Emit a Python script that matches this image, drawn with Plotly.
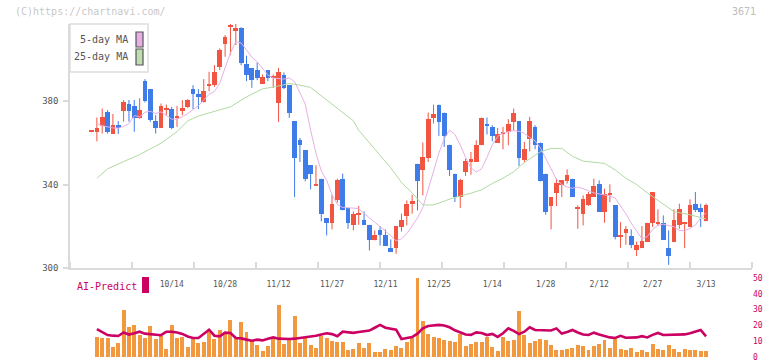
import plotly.graph_objects as go

# ---------------- data ----------------
tick_idx = [15, 25, 35, 45, 55, 65, 75, 85, 95, 105, 115]
tick_labels = ["10/14", "10/28", "11/12", "11/27", "12/11", "12/25",
               "1/14", "1/28", "2/12", "2/27", "3/13"]
price_ticks = [300, 340, 380]
ai_ticks = [0, 10, 20, 30, 40, 50]

opens = [
    365.2, 365.2, 368.1, 374.6, 364.2, 368.5, 375.2, 378.6, 377.6, 371.9,
    389.5, 385.7, 370.3, 367.1, 375.9, 376.4, 372.0, 375.1, 377.2, 385.7,
    383.6, 379.3, 387.3, 387.5, 396.4, 407.1, 415.7, 413.5, 415.1, 397.5,
    395.6, 394.8, 388.1, 394.8, 391.4, 379.1, 392.7, 387.6, 370.3, 361.2,
    356.4, 349.2, 339.7, 342.8, 324.0, 321.4, 332.4, 342.8, 328.9, 320.7,
    325.8, 322.8, 320.7, 313.2, 318.0, 315.9, 309.7, 309.5, 319.6, 324.9,
    330.8, 350.0, 346.8, 352.7, 371.9, 378.3, 374.5, 359.1, 345.2, 334.0,
    346.0, 350.8, 350.8, 358.8, 369.2, 367.7, 360.0, 364.2, 365.2, 370.0,
    370.3, 351.6, 362.0, 367.4, 360.1, 345.2, 329.5, 335.9, 339.6, 341.5,
    342.8, 328.7, 325.7, 330.3, 334.0, 340.1, 326.8, 335.0, 330.0, 315.0,
    316.9, 315.1, 308.4, 309.5, 312.4, 321.7, 321.4, 321.7, 309.7, 312.4,
    320.4, 321.1, 319.6, 330.8, 328.9, 322.5]
highs = [
    365.8, 372.1, 376.4, 375.6, 373.8, 370.4, 380.5, 380.5, 380.5, 381.3,
    390.5, 385.7, 373.2, 378.8, 378.3, 377.2, 377.7, 380.4, 380.9, 387.6,
    385.7, 390.5, 394.0, 397.2, 405.2, 411.6, 416.9, 416.9, 415.4, 401.7,
    395.6, 398.5, 392.7, 394.8, 392.7, 395.9, 393.7, 387.6, 370.3, 362.3,
    356.4, 349.2, 349.2, 342.8, 324.0, 335.1, 342.8, 345.2, 328.9, 327.1,
    329.7, 327.1, 320.7, 318.0, 320.1, 318.5, 313.7, 320.1, 326.0, 332.4,
    335.1, 350.0, 360.1, 374.5, 378.3, 378.3, 374.5, 359.1, 345.2, 342.8,
    352.4, 355.6, 361.2, 372.1, 372.1, 368.4, 367.1, 367.6, 371.3, 376.4,
    370.3, 360.4, 372.4, 368.4, 360.1, 345.2, 334.0, 342.8, 342.0, 347.3,
    342.8, 330.0, 334.8, 336.4, 342.8, 342.0, 338.0, 340.1, 330.0, 322.0,
    320.1, 318.5, 312.7, 320.1, 321.7, 336.2, 328.1, 325.2, 318.0, 328.1,
    330.8, 322.0, 332.9, 336.4, 330.8, 330.8]
lows = [
    365.0, 360.7, 364.4, 364.4, 364.2, 364.2, 370.1, 370.1, 365.3, 371.5,
    379.3, 370.0, 364.4, 367.1, 373.2, 366.5, 367.6, 373.2, 376.7, 376.1,
    376.1, 379.3, 384.7, 386.8, 394.8, 401.2, 402.0, 406.8, 397.2, 389.5,
    386.3, 390.0, 388.1, 389.5, 386.3, 370.0, 385.7, 371.9, 334.0, 350.8,
    341.5, 337.7, 339.7, 322.3, 315.6, 318.5, 331.3, 327.6, 318.8, 318.0,
    320.7, 320.7, 308.4, 313.2, 310.8, 310.5, 307.6, 306.8, 317.5, 320.4,
    326.0, 327.6, 334.8, 350.8, 369.2, 363.3, 358.0, 344.1, 331.6, 328.7,
    344.1, 344.7, 350.8, 358.8, 364.0, 360.7, 360.0, 356.9, 358.8, 366.0,
    348.9, 350.8, 355.9, 356.9, 341.5, 325.5, 318.5, 329.7, 334.0, 340.4,
    334.0, 318.8, 320.4, 329.7, 334.0, 326.8, 321.7, 331.6, 313.7, 309.7,
    311.1, 309.5, 305.7, 309.5, 312.4, 319.6, 320.1, 313.4, 301.5, 312.4,
    318.8, 309.5, 319.6, 326.8, 319.6, 322.5]
closes = [
    365.5, 367.3, 372.4, 365.2, 368.5, 367.2, 379.4, 375.4, 372.0, 375.7,
    379.9, 370.8, 367.1, 377.7, 376.3, 367.1, 372.4, 376.7, 380.4, 383.3,
    382.0, 384.7, 387.7, 394.0, 404.4, 410.8, 416.1, 415.0, 398.0, 392.4,
    390.0, 391.1, 391.6, 391.1, 391.8, 393.7, 386.3, 374.3, 352.7, 358.8,
    342.5, 344.9, 340.1, 325.7, 321.4, 330.8, 342.0, 327.6, 321.7, 326.0,
    326.2, 320.7, 313.2, 315.9, 315.6, 310.5, 307.6, 320.1, 322.8, 330.8,
    332.1, 341.7, 353.0, 371.3, 373.7, 370.0, 363.3, 346.8, 334.0, 342.0,
    351.1, 352.1, 359.1, 372.1, 368.1, 363.3, 364.4, 364.6, 369.2, 374.5,
    352.7, 357.2, 370.3, 358.8, 341.5, 326.8, 334.0, 340.7, 342.0, 344.4,
    334.0, 329.1, 332.9, 335.3, 339.1, 326.8, 335.3, 335.4, 314.8, 315.4,
    318.8, 311.1, 310.8, 312.7, 321.7, 336.2, 321.8, 313.4, 305.7, 322.8,
    328.1, 321.5, 330.0, 327.6, 326.8, 330.0]

volume = [
    None, 12.9, 12.0, 12.0, 6.3, 8.9, 29.7, 19.0, 20.5, 13.7,
    12.0, 19.6, 11.4, 13.1, 5.1, 20.3, 12.0, 12.9, 6.3, 11.4,
    8.9, 9.5, 17.1, 11.4, 17.1, 16.0, 23.4, 12.9, 22.4, 16.0,
    10.3, 7.6, 3.8, 7.0, 12.0, 33.1, 8.2, 10.8, 25.9, 8.9,
    12.0, 7.6, 5.7, 13.3, 12.0, 10.3, 9.7, 9.7, 4.4, 5.3,
    8.9, 5.7, 8.9, 3.2, 3.2, 5.1, 4.4, 6.8, 5.9, 9.5,
    12.0, 50.0, 22.6, 14.6, 12.9, 12.0, 10.5, 9.9, 9.3, 14.6,
    7.0, 8.2, 9.5, 9.5, 12.7, 6.3, 3.8, 12.7, 10.3, 11.0,
    29.1, 13.9, 8.9, 10.3, 11.4, 10.8, 7.6, 4.4, 4.4, 5.1,
    5.7, 7.8, 7.2, 4.4, 6.8, 8.2, 10.8, 5.7, 11.4, 5.1,
    4.4, 5.7, 3.2, 4.4, 3.2, 8.2, 5.1, 4.6, 7.6, 5.1,
    3.2, 5.1, 4.6, 4.6, 3.8, 3.8]

ai_predict = [
    None, 17.7, 16.0, 13.9, 13.5, 13.3, 15.5, 14.2, 15.0, 16.0,
    14.8, 14.6, 14.0, 13.8, 16.0, 16.0, 15.5, 14.6, 13.0, 12.0,
    12.0, 14.5, 17.3, 13.5, 13.1, 15.4, 15.2, 12.0, 11.8, 11.0,
    10.3, 11.0, 10.5, 11.5, 12.4, 11.6, 11.4, 11.4, 11.6, 12.0,
    12.3, 12.9, 13.5, 14.3, 15.0, 14.5, 13.1, 16.0, 15.5, 15.3,
    15.8, 16.3, 16.7, 18.5, 20.3, 18.5, 17.8, 17.3, 11.4, 12.2,
    12.6, 14.8, 18.2, 19.6, 20.0, 20.3, 19.9, 18.8, 16.9, 15.3,
    14.2, 14.0, 15.6, 15.2, 13.9, 14.6, 12.7, 15.0, 18.1, 16.5,
    14.5, 16.0, 18.8, 17.1, 17.0, 16.8, 16.8, 18.1, 14.8, 15.8,
    17.1, 15.5, 14.2, 13.9, 15.4, 14.2, 13.2, 12.4, 12.0, 13.4,
    12.2, 12.4, 12.4, 13.2, 12.4, 14.0, 15.2, 13.9, 13.9, 13.9,
    13.9, 14.3, 15.0, 16.0, 17.1, 13.1]

ma5 = [
    None, 369.2, 368.2, 367.6, 367.1, 367.0, 367.8, 369.2, 373.0, 372.5,
    374.6, 375.1, 374.0, 374.8, 373.2, 371.3, 371.3, 372.4, 374.0, 375.8,
    377.8, 380.5, 383.2, 384.6, 388.5, 396.0, 403.0, 408.5, 407.8, 404.5,
    401.0, 398.8, 395.5, 392.5, 391.0, 390.7, 390.5, 391.1, 389.2, 384.0,
    378.5, 366.0, 355.0, 346.5, 342.0, 335.2, 330.5, 329.0, 329.0, 328.7,
    328.4, 326.0, 324.0, 322.0, 319.8, 318.0, 315.5, 313.0, 314.0, 316.4,
    320.0, 324.0, 329.0, 338.0, 347.0, 355.0, 362.0, 366.0, 364.0, 359.0,
    353.0, 348.0, 346.0, 347.5, 353.0, 359.0, 363.0, 364.8, 365.3, 365.8,
    365.5, 364.5, 362.5, 361.0, 357.5, 352.5, 347.0, 342.5, 340.0, 338.8,
    338.2, 338.8, 338.0, 337.0, 336.0, 335.5, 335.0, 334.5, 333.5, 330.0,
    326.0, 321.5, 317.5, 314.0, 315.0, 318.5, 320.5, 321.0, 320.3, 319.8,
    318.0, 317.8, 319.0, 320.5, 324.0, 326.5]

ma25_idx = [1, 3, 6, 9, 13, 16, 18, 20, 22, 24, 26, 29, 32, 35, 37, 39, 41, 43,
            45, 47, 49, 50, 52, 54, 56, 58, 60, 62, 64, 66, 67, 69, 71, 73, 75,
            77, 79, 81, 84, 86, 88, 90, 92, 96, 98, 100, 102, 104, 107, 109,
            112, 114, 115]
ma25_val = [343, 347.5, 351, 354.3, 359.8, 365.3, 370.5, 372.8, 374.3, 375.8,
            377.2, 382, 385.8, 387.2, 388.4, 387.6, 386.5, 382.5, 378.5, 374.5,
            370.5, 366, 360, 354, 348, 341, 336, 330.2, 330.2, 332, 333, 334.5,
            335.8, 337.5, 340.5, 343, 346.1, 350.5, 355.7, 357.3, 357.3, 353.5,
            351.2, 350.1, 347, 343, 340, 336, 330.5, 327, 325.5, 324, 323.5]

# ---------------- styling ----------------
RED = "#F15541"
BLUE = "#3E7CE9"
ORANGE = "#F2983F"
MAGENTA = "#CC0062"
PINK = "#E6B0E6"
GREEN = "#B2D9A2"
AXIS = "#DADADA"
TXT = "#555555"
MONO = "DejaVu Sans Mono"

W, H = 772, 361
L, R, T, B = 70, 752, 24, 357   # pixel frame of the plotting area
MAIN_BOTTOM = 268
VOL_TOP = 278

def fx(p):
    return (p - L) / (R - L)

def fy(p):
    return (B - p) / (B - T)

n = len(opens)
idx = list(range(n))
up = [c >= o for o, c in zip(opens, closes)]
colors = [RED if u else BLUE for u in up]

fig = go.Figure()

# wicks
for flag, col in ((True, RED), (False, BLUE)):
    wx, wy = [], []
    for i in idx:
        if up[i] == flag:
            wx += [i, i, None]
            wy += [lows[i], highs[i], None]
    fig.add_trace(go.Scatter(x=wx, y=wy, mode="lines",
                             line=dict(color=col, width=1),
                             hoverinfo="skip", xaxis="x", yaxis="y"))

# bodies
fig.add_trace(go.Bar(
    x=idx,
    y=[max(abs(c - o), 0.5) for o, c in zip(opens, closes)],
    base=[min(o, c) for o, c in zip(opens, closes)],
    marker=dict(color=colors, line=dict(width=0)),
    width=0.88, xaxis="x", yaxis="y"))

# moving averages
fig.add_trace(go.Scatter(x=idx, y=ma5, mode="lines",
                         line=dict(color=PINK, width=1),
                         xaxis="x", yaxis="y"))
fig.add_trace(go.Scatter(x=ma25_idx, y=ma25_val, mode="lines",
                         line=dict(color=GREEN, width=1),
                         xaxis="x", yaxis="y"))

# volume + AI-Predict
fig.add_trace(go.Bar(x=idx, y=volume, marker=dict(color=ORANGE, line=dict(width=0)),
                     width=0.74, xaxis="x2", yaxis="y2"))
fig.add_trace(go.Scatter(x=idx, y=ai_predict, mode="lines",
                         line=dict(color=MAGENTA, width=2.6),
                         xaxis="x2", yaxis="y2"))

x_range = [-4.03, 123.6]
grid_vals = [x_range[0] + k * (x_range[1] - x_range[0]) / 11 for k in range(12)]

fig.update_layout(
    width=W, height=H,
    margin=dict(l=L, r=W - R, t=T, b=H - B, pad=0, autoexpand=False),
    paper_bgcolor="white", plot_bgcolor="white",
    showlegend=False, barmode="overlay", bargap=0,
    xaxis=dict(domain=[0, 1], range=x_range, anchor="y", automargin=False,
               showline=True, linecolor=AXIS, linewidth=1.5,
               showgrid=False, zeroline=False,
               tickmode="array", tickvals=tick_idx, ticktext=tick_labels,
               ticks="outside", ticklen=8, tickcolor="rgba(0,0,0,0)",
               tickfont=dict(family=MONO, size=8, color=TXT),
               minor=dict(tickmode="array", tickvals=grid_vals, ticks="inside",
                          ticklen=6, tickwidth=1.5, tickcolor=AXIS, showgrid=False)),
    yaxis=dict(domain=[fy(MAIN_BOTTOM), 1], range=[300, 416.9], anchor="x",
               automargin=False, ticklabelstandoff=3,
               showline=True, linecolor=AXIS, linewidth=1.5,
               showgrid=False, zeroline=False,
               tickmode="array", tickvals=price_ticks,
               ticks="outside", ticklen=5, tickcolor=AXIS, tickwidth=1.5,
               tickfont=dict(family=MONO, size=9, color=TXT)),
    xaxis2=dict(domain=[0, 1], range=x_range, anchor="y2", visible=False,
                automargin=False),
    yaxis2=dict(domain=[0, fy(VOL_TOP)], range=[0, 50], anchor="x2", side="right",
                automargin=False, ticklabeloverflow="allow",
                showline=False, showgrid=False, zeroline=False,
                tickmode="array", tickvals=ai_ticks, ticks="",
                tickfont=dict(family=MONO, size=8, color=MAGENTA)),
)

shapes = []
annos = []
# legend box
shapes.append(dict(type="rect", xref="paper", yref="paper",
                   x0=fx(70), x1=fx(148), y0=fy(72), y1=fy(24),
                   line=dict(color="#DDDDDD", width=1.5), fillcolor="white",
                   layer="above"))
for (y0, y1, col, label, yc) in ((32, 47, PINK, "5-day MA", 39.5),
                                  (49, 65, "#BEDDB0", "25-day MA", 57)):
    shapes.append(dict(type="rect", xref="paper", yref="paper",
                       x0=fx(136), x1=fx(143), y0=fy(y1), y1=fy(y0),
                       line=dict(color="#555555", width=1.2), fillcolor=col,
                       layer="above"))
    annos.append(dict(xref="paper", yref="paper", x=fx(130), y=fy(yc),
                      text=label, showarrow=False, xanchor="right",
                      yanchor="middle",
                      font=dict(family=MONO, size=10, color=TXT)))

# AI-Predict label
annos.append(dict(xref="paper", yref="paper", x=fx(75), y=fy(286),
                  text="AI-Predict", showarrow=False, xanchor="left",
                  yanchor="middle", font=dict(family=MONO, size=10, color=MAGENTA)))
shapes.append(dict(type="rect", xref="paper", yref="paper",
                   x0=fx(142), x1=fx(149), y0=fy(293), y1=fy(277),
                   line=dict(width=0), fillcolor=MAGENTA))

# watermark texts
annos.append(dict(xref="paper", yref="paper", x=fx(13), y=fy(12),
                  text="(C)https://chartnavi.com/", showarrow=False,
                  xanchor="left", yanchor="middle",
                  font=dict(family=MONO, size=10, color="#C8C8C8")))
annos.append(dict(xref="paper", yref="paper", x=fx(758), y=fy(12),
                  text="3671", showarrow=False, xanchor="right",
                  yanchor="middle",
                  font=dict(family=MONO, size=10, color="#BDBDBD")))

fig.update_layout(shapes=shapes, annotations=annos)

fig.write_html("out.html",
               config={"displayModeBar": False},
               post_script="document.body.style.margin='0';"
                           "document.body.style.padding='0';")
